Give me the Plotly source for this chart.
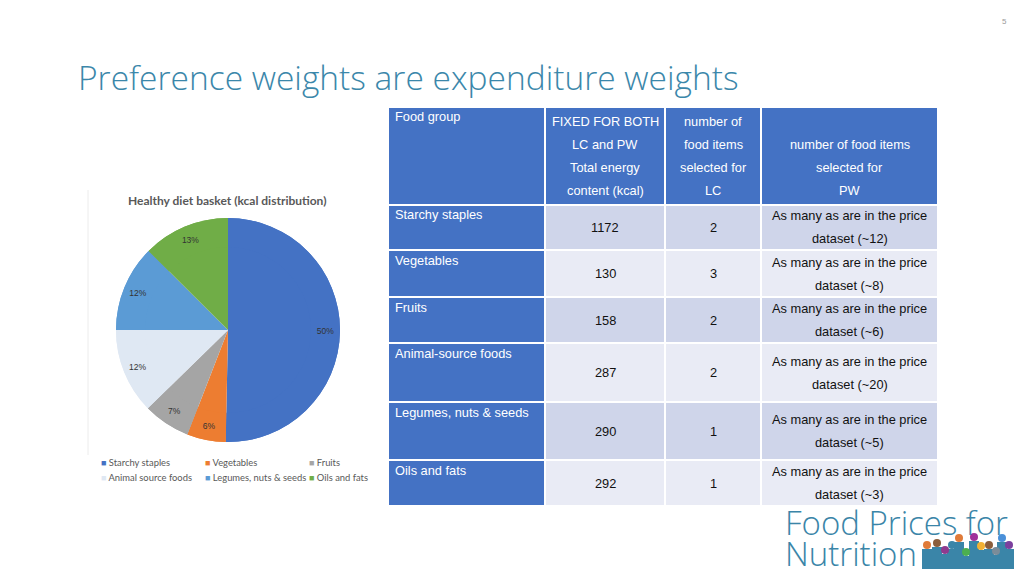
import plotly.graph_objects as go

W, H = 1024, 576

# ---------------- data ----------------
pie_labels = ["Starchy staples", "Vegetables", "Fruits",
              "Animal source foods", "Legumes, nuts & seeds", "Oils and fats"]
kcal = [1172, 130, 158, 287, 290, 292]
pie_colors = ["#4472C4", "#ED7D31", "#A5A5A5", "#DFE8F3", "#5B9BD5", "#70AD47"]

food_groups = ["Starchy staples", "Vegetables", "Fruits",
               "Animal-source foods", "Legumes, nuts & seeds", "Oils and fats"]
lc_items = [2, 3, 2, 2, 1, 1]
pw_approx = ["~12", "~8", "~6", "~20", "~5", "~3"]

header_lines = [
    ["Food group"],
    ["FIXED FOR BOTH", "LC and PW", "Total energy", "content (kcal)"],
    ["number of", "food items", "selected for", "LC"],
    ["", "number of food items", "selected for", "PW"],
]

title_text = "Preference weights are expenditure weights"
pie_title = "Healthy diet basket (kcal distribution)"

# ---------------- layout constants (pixels) ----------------
col_edges = [0, 157, 277, 373, 550]              # table column boundaries
row_edges = [0, 98, 143, 190, 236, 295, 353, 399]  # table row boundaries
LINE = 23                                         # table line spacing

def xp(x):
    return x / W

def yp(y):
    return 1 - y / H

BLUE = "#4472C4"
ROW_A = "#CFD5EA"
ROW_B = "#E9EBF5"
TEAL = "#3B87AA"
TFONT = "Liberation Sans"
TSIZE = 12.8

fig = go.Figure()

# ---------------- pie ----------------
cx, cy, R = 228, 330, 112
dom = dict(x=[xp(cx - R), xp(cx + R)], y=[yp(cy + R), yp(cy - R)])
fig.add_trace(go.Pie(
    labels=pie_labels, values=kcal, sort=False, direction="clockwise",
    rotation=0, domain=dom, marker=dict(colors=pie_colors, line=dict(width=0)),
    textinfo="none", hoverinfo="label+percent", showlegend=False))
fig.add_trace(go.Pie(
    labels=pie_labels, values=kcal, sort=False, direction="clockwise",
    rotation=0, domain=dom, hole=0.74,
    marker=dict(colors=pie_colors, line=dict(width=0)),
    texttemplate="%{percent:.0%}", textposition="inside",
    insidetextorientation="horizontal",
    textfont=dict(size=8.5, color="#333333", family="Liberation Sans"),
    hoverinfo="skip", showlegend=False))

# ---------------- table (heatmap cells on a hidden axis) ----------------
n_rows = len(food_groups) + 1
n_cols = len(header_lines)
z = []
for r in range(n_rows):
    row = []
    for c in range(n_cols):
        if r == 0 or c == 0:
            row.append(0)
        else:
            row.append(1 if (r - 1) % 2 == 0 else 2)
    z.append(row)

fig.add_trace(go.Heatmap(
    z=z, x=col_edges, y=row_edges, zmin=0, zmax=2,
    colorscale=[[0, BLUE], [0.5, ROW_A], [1, ROW_B]],
    xgap=2, ygap=2, showscale=False, hoverinfo="skip"))

ann = []

def add_text(lines, c, r, color):
    x0, x1 = col_edges[c], col_edges[c + 1]
    y0, y1 = row_edges[r], row_edges[r + 1]
    if c == 0:
        ann.append(dict(x=x0 + 5, y=y0 + 10, xref="x", yref="y", text=lines[0],
                        showarrow=False, xanchor="left", yanchor="middle",
                        font=dict(family=TFONT, size=TSIZE, color=color)))
        return
    mid = (y0 + y1) / 2
    k = len(lines)
    for j, t in enumerate(lines):
        if not t:
            continue
        ann.append(dict(x=(x0 + x1) / 2, y=mid + (j - (k - 1) / 2) * LINE,
                        xref="x", yref="y", text=t, showarrow=False,
                        xanchor="center", yanchor="middle",
                        font=dict(family=TFONT, size=TSIZE, color=color)))

for c, lines in enumerate(header_lines):
    add_text(lines, c, 0, "white")
for i in range(len(food_groups)):
    r = i + 1
    add_text([food_groups[i]], 0, r, "white")
    add_text([str(kcal[i])], 1, r, "#111111")
    add_text([str(lc_items[i])], 2, r, "#111111")
    add_text(["As many as are in the price", "dataset (" + pw_approx[i] + ")"], 3, r, "#111111")

# ---------------- other texts ----------------
ann.append(dict(x=xp(76), y=yp(77), xref="paper", yref="paper", text=title_text,
                showarrow=False, xanchor="left", yanchor="middle",
                font=dict(family="Open Sans", size=33.5, color=TEAL, weight=300)))
ann.append(dict(x=xp(1004), y=yp(22), xref="paper", yref="paper", text="5",
                showarrow=False, xanchor="center", yanchor="middle",
                font=dict(family="Liberation Sans", size=8, color="#9a9a9a")))
ann.append(dict(x=xp(227), y=yp(201), xref="paper", yref="paper",
                text="<b>" + pie_title + "</b>",
                showarrow=False, xanchor="center", yanchor="middle",
                font=dict(family="Lato", size=12, color="#595959")))
# legend of the pie (3 columns x 2 rows)
leg_x = [99, 203, 307]
leg_y = [462, 477]
for i, (lab, col) in enumerate(zip(pie_labels, pie_colors)):
    c, r = i % 3, i // 3
    ann.append(dict(x=xp(leg_x[c]), y=yp(leg_y[r]), xref="paper", yref="paper",
                    text=f"<span style='color:{col};font-size:9px'>■</span> {lab}",
                    showarrow=False, xanchor="left", yanchor="middle",
                    font=dict(family="Lato", size=9.4, color="#595959")))
# logo text
LOGO = "#3A85A8"
ann.append(dict(x=xp(784), y=yp(522), xref="paper", yref="paper", text="Food Prices for",
                showarrow=False, xanchor="left", yanchor="middle", borderpad=0,
                font=dict(family="Open Sans", size=33, color=LOGO, weight=300)))
ann.append(dict(x=xp(784), y=yp(553), xref="paper", yref="paper", text="Nutrition",
                showarrow=False, xanchor="left", yanchor="middle", borderpad=0,
                font=dict(family="Open Sans", size=33, color=LOGO, weight=300)))

# logo people (decorative)
people_x = [927, 937, 945, 952, 959, 966, 974, 981, 989, 996, 1002, 1009]
people_y = [545, 543, 550, 545, 538, 552, 537, 546, 545, 551, 538, 545]
people_c = ["#E07B39", "#8B5E3C", "#8E3A8E", "#3A85A8", "#E07B39", "#4CAF50",
            "#A0309A", "#F2B134", "#8B5E3C", "#7A8C99", "#4A90D9", "#7B3F9E"]
shapes = [dict(type="line", xref="paper", yref="paper",
               x0=xp(88), x1=xp(88), y0=yp(190), y1=yp(455),
               line=dict(color="#ececec", width=1))]
for px_, py_, pc in zip(people_x, people_y, people_c):
    shapes.append(dict(type="rect", xref="paper", yref="paper", layer="below",
                       x0=xp(px_ - 5), x1=xp(px_ + 5), y0=yp(569), y1=yp(py_ + 4),
                       fillcolor=LOGO, line=dict(width=0)))
for px_, py_, pc in zip(people_x, people_y, people_c):
    shapes.append(dict(type="circle", xref="paper", yref="paper", layer="below",
                       x0=xp(px_ - 4), x1=xp(px_ + 4), y0=yp(py_ + 4), y1=yp(py_ - 4),
                       fillcolor=pc, line=dict(width=0)))

hidden = dict(showgrid=False, zeroline=False, showticklabels=False, ticks="",
              showline=False, fixedrange=True)
fig.update_layout(
    width=W, height=H, margin=dict(l=0, r=0, t=0, b=0),
    paper_bgcolor="white", plot_bgcolor="white",
    xaxis=dict(domain=[xp(388), xp(938)], range=[col_edges[0], col_edges[-1]], **hidden),
    yaxis=dict(domain=[yp(row_edges[-1] + 107), yp(107)],
               range=[row_edges[-1], row_edges[0]], **hidden),
    annotations=ann,
    shapes=shapes,
)

fig.write_html("out.html", config={"displayModeBar": False},
               post_script="document.body.style.margin='0px';")
